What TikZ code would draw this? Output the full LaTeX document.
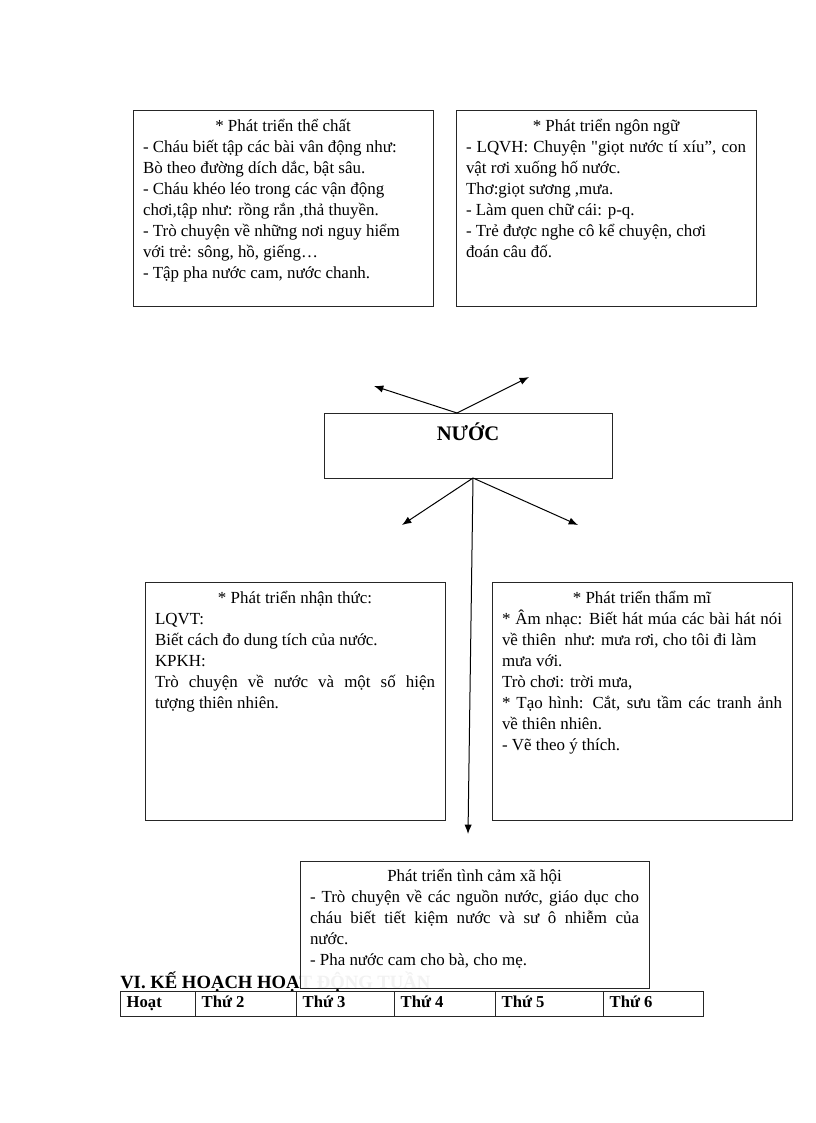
\documentclass[tikz,border=0pt]{standalone}
\usepackage{fontspec}
\setmainfont{Liberation Serif}
\usetikzlibrary{calc, positioning, arrows.meta}

\newlength{\pxl}
\setlength{\pxl}{0.75pt}
% hop noi dung: [khoang tren]{rong}{cao}{chu}
\newcommand{\khung}[4][4pt]{\parbox[c][#3\pxl][t]{#2\pxl}{\vspace*{#1}#4}}
\newcommand{\tieude}[1]{{\centering\strut#1\par}}
\newcommand{\dongdeu}[1]{\makebox[\linewidth][s]{#1}}
\newcommand{\oBang}[2]{\makebox[\dimexpr#1\pxl-10pt\relax][l]{#2}}

\tikzset{
  hop/.style={draw=black!85, line width=0.75pt, rectangle, anchor=north west,
    inner xsep=7.5pt, inner ysep=0pt, outer sep=0pt,
    font=\fontsize{12.7}{15.75}\selectfont},
  oBang/.style={draw=black!85, line width=0.75pt, rectangle, minimum height=25\pxl,
    inner xsep=5pt, inner ysep=0pt, outer sep=0pt, text height=9pt, text depth=3pt,
    font=\fontsize{12.5}{14}\selectfont\bfseries},
  muiten/.style={->, line width=0.75pt}
}

\begin{document}
\begin{tikzpicture}[>={Latex[length=7pt, width=5.5pt]}, x=0.75pt, y=-0.75pt]
    \useasboundingbox (0,0) rectangle (816,1123);

    % 1. Cac hop xung quanh
    \node[hop] (theChat) at (133,111) {\khung{280}{195}{%
        \tieude{* Phát triển thể chất}
        - Cháu biết tập các bài vân động như:\\
        Bò theo đường dích dắc, bật sâu.\\
        - Cháu khéo léo trong các vận động\\
        chơi,tập như: rồng rắn ,thả thuyền.\\
        - Trò chuyện về những nơi nguy hiểm\\
        với trẻ: sông, hồ, giếng…\\
        - Tập pha nước cam, nước chanh.}};
    \node[hop] (ngonNgu) at (456,111) {\khung{280}{195}{%
        \tieude{* Phát triển ngôn ngữ}
        \dongdeu{- LQVH: Chuyện \textquotedbl giọt nước tí xíu”, con}\\
        vật rơi xuống hố nước.\\
        Thơ:giọt sương ,mưa.\\
        - Làm quen chữ cái: p-q.\\
        - Trẻ được nghe cô kể chuyện, chơi\\
        đoán câu đố.}};
    \node[hop] (nhanThuc) at (145,582) {\khung[4.75pt]{280}{238}{%
        \tieude{* Phát triển nhận thức:}
        LQVT:\\
        Biết cách đo dung tích của nước.\\
        KPKH:\\
        \dongdeu{Trò chuyện về nước và một số hiện}\\
        tượng thiên nhiên.}};
    \node[hop] (thamMi) at (492,582) {\khung[4.75pt]{280}{238}{%
        \tieude{* Phát triển thẩm mĩ}
        \dongdeu{* Âm nhạc: Biết hát múa các bài hát nói}\\
        về thiên \ như: mưa rơi, cho tôi đi làm\\
        mưa với.\\
        Trò chơi: trời mưa,\\
        \dongdeu{* Tạo hình: Cắt, sưu tầm các tranh ảnh}\\
        về thiên nhiên.\\
        - Vẽ theo ý thích.}};

    % 2. Hop giua
    \node[hop] (nuoc) at (324,413) {\khung[7.2pt]{268}{65}{%
        \fontsize{15.5}{19}\selectfont\bfseries\tieude{NƯỚC}}};

    % 3. Muoi ten
    \coordinate (dTren) at ($(nuoc.north)+(-11,0)$);
    \coordinate (dDuoi) at ($(nuoc.south)+(5,0)$);
    \coordinate (hTrenTrai) at (374,386);
    \coordinate (hTrenPhai) at (529,377);
    \coordinate (hDuoiTrai) at (402,525);
    \coordinate (hDuoiPhai) at (578,525);
    \coordinate (hDuoiGiua) at (468,834);
    \draw[muiten] (dTren) -- (hTrenTrai);
    \draw[muiten] (dTren) -- (hTrenPhai);
    \draw[muiten] (dDuoi) -- (hDuoiTrai);
    \draw[muiten] (dDuoi) -- (hDuoiPhai);
    \draw[muiten] (dDuoi) -- (hDuoiGiua);

    % 4. Tieu de va bang
    \node[anchor=base west, inner sep=0pt, font=\fontsize{14}{16}\selectfont\bfseries]
        (tieuDe) at (120,988) {VI. KẾ HOẠCH HOẠT ĐỘNG TUẦN};
    \node[hop, fill=white, fill opacity=0.95, text opacity=1] (tinhCam) at (300,861)
        {\khung{329}{127}{%
        \tieude{Phát triển tình cảm xã hội}
        \dongdeu{- Trò chuyện về các nguồn nước, giáo dục cho}\\
        \dongdeu{cháu biết tiết kiệm nước và sư ô nhiễm của}\\
        nước.\\
        - Pha nước cam cho bà, cho mẹ.}};

    \node[oBang, anchor=west] (hoat) at (120,1003.5) {\oBang{75}{Hoạt}};
    \node[oBang, anchor=west, right=0pt of hoat] (thu2) {\oBang{101}{Thứ 2}};
    \node[oBang, anchor=west, right=0pt of thu2] (thu3) {\oBang{98}{Thứ 3}};
    \node[oBang, anchor=west, right=0pt of thu3] (thu4) {\oBang{101}{Thứ 4}};
    \node[oBang, anchor=west, right=0pt of thu4] (thu5) {\oBang{108}{Thứ 5}};
    \node[oBang, anchor=west, right=0pt of thu5] (thu6) {\oBang{100}{Thứ 6}};
\end{tikzpicture}
\end{document}
